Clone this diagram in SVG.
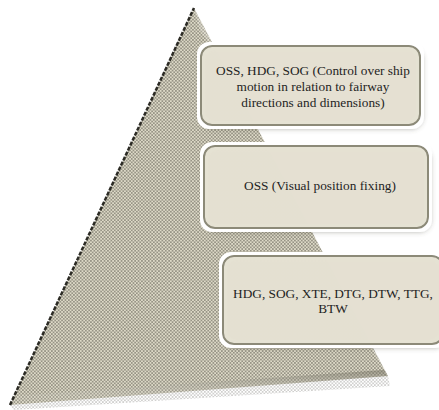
<svg xmlns="http://www.w3.org/2000/svg" width="439" height="410" viewBox="0 0 439 410">
<defs>
<pattern id="dots" width="3.4" height="3.4" patternUnits="userSpaceOnUse">
<rect width="3.4" height="3.4" fill="#dedac8"/>
<circle cx="0.85" cy="0.85" r="0.68" fill="#3a3930"/>
<circle cx="2.55" cy="2.55" r="0.68" fill="#3a3930"/>
</pattern>
<pattern id="dots2" width="3.4" height="3.4" patternUnits="userSpaceOnUse">
<circle cx="0.85" cy="0.85" r="0.75" fill="#35342c"/>
<circle cx="2.55" cy="2.55" r="0.75" fill="#35342c"/>
</pattern>
<linearGradient id="base" x1="0" y1="0" x2="0" y2="1">
<stop offset="0" stop-color="#6b6858" stop-opacity="0.5"/>
<stop offset="1" stop-color="#ffffff" stop-opacity="0"/>
</linearGradient>
<filter id="glow" x="-10%" y="-15%" width="120%" height="135%">
<feGaussianBlur in="SourceAlpha" stdDeviation="2.5" result="b"/>
<feOffset dx="2" dy="3" in="b" result="o"/>
<feFlood flood-color="#555548" flood-opacity="0.45"/>
<feComposite in2="o" operator="in" result="s"/>
<feMorphology in="SourceAlpha" operator="dilate" radius="3" result="d"/>
<feFlood flood-color="#ffffff"/>
<feComposite in2="d" operator="in" result="w"/>
<feMerge><feMergeNode in="s"/><feMergeNode in="w"/><feMergeNode in="SourceGraphic"/></feMerge>
</filter>
</defs>
<style>
.box{fill:#e2decd;fill-opacity:0.9;stroke:#8c8a78;stroke-width:2;filter:url(#glow)}
.t{font-family:"Liberation Serif","Times New Roman",serif;font-size:13.3px;fill:#1e1e1e;text-anchor:middle}
</style>
<g id="pyramid">
<polygon points="194,8 388,376 10,405" fill="url(#dots)"/>
<polygon points="10,405 388,376 384,370 14,396" fill="url(#base)"/>
<polygon points="10,405 388,376 390,386 14,410" fill="url(#dots2)" opacity="0.35"/>
<polygon points="194,8 200,30 230,75 300,205 330,265 360,330 388,376 384,330 330,230 260,110" fill="#ffffff" opacity="0.2"/>
<polyline points="10,405 194,8" fill="none" stroke="#2c2b25" stroke-width="2.5" stroke-dasharray="4,1.5"/>
</g>
<g id="node1">
<rect class="box" x="201" y="46" width="219" height="79" rx="11"/>
<text class="t" x="313" y="75">OSS, HDG, SOG (Control over ship</text>
<text class="t" x="313" y="91">motion in relation to fairway</text>
<text class="t" x="313" y="107">directions and dimensions)</text>
</g>
<g id="node2">
<rect class="box" x="204" y="146" width="224" height="82" rx="11"/>
<text class="t" x="320" y="190">OSS (Visual position fixing)</text>
</g>
<g id="node3">
<rect class="box" x="223" y="256" width="220" height="88" rx="11"/>
<text class="t" x="333" y="298">HDG, SOG, XTE, DTG, DTW, TTG,</text>
<text class="t" x="333" y="313">BTW</text>
</g>
<g id="connectors"/>
</svg>
